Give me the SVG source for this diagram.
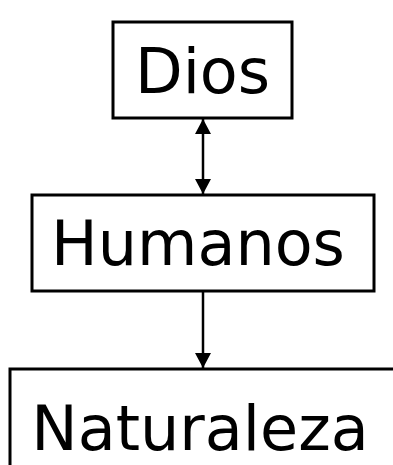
<svg xmlns="http://www.w3.org/2000/svg" width="393" height="465" viewBox="0 0 393 465">
<style>
.box{fill:#fff;stroke:#000;stroke-width:3}
.lbl{font-family:"DejaVu Sans",Verdana,sans-serif;font-size:62px;fill:#000;text-anchor:middle}
.edge{stroke:#000;stroke-width:2.5;fill:none}
</style>
<defs>
<marker id="ah" viewBox="0 0 15 16" refX="15" refY="8" markerWidth="15" markerHeight="16" markerUnits="userSpaceOnUse" orient="auto-start-reverse">
<path d="M0,0 L15,8 L0,16 Z" fill="#000"/>
</marker>
</defs>
<rect width="393" height="465" fill="#fff"/>
<g id="dios">
<rect class="box" x="113" y="22" width="179" height="96"/>
<text class="lbl" x="202.5" y="93">Dios</text>
</g>
<g id="humanos">
<rect class="box" x="32" y="195" width="342" height="96"/>
<text class="lbl" x="198" y="265">Humanos</text>
</g>
<g id="naturaleza">
<rect class="box" x="10" y="369" width="400" height="200"/>
<text class="lbl" x="200" y="450">Naturaleza</text>
</g>
<g id="connectors">
<line class="edge" x1="203" y1="119" x2="203" y2="194" marker-start="url(#ah)" marker-end="url(#ah)"/>
<line class="edge" x1="203" y1="292" x2="203" y2="368" marker-end="url(#ah)"/>
</g>
</svg>
